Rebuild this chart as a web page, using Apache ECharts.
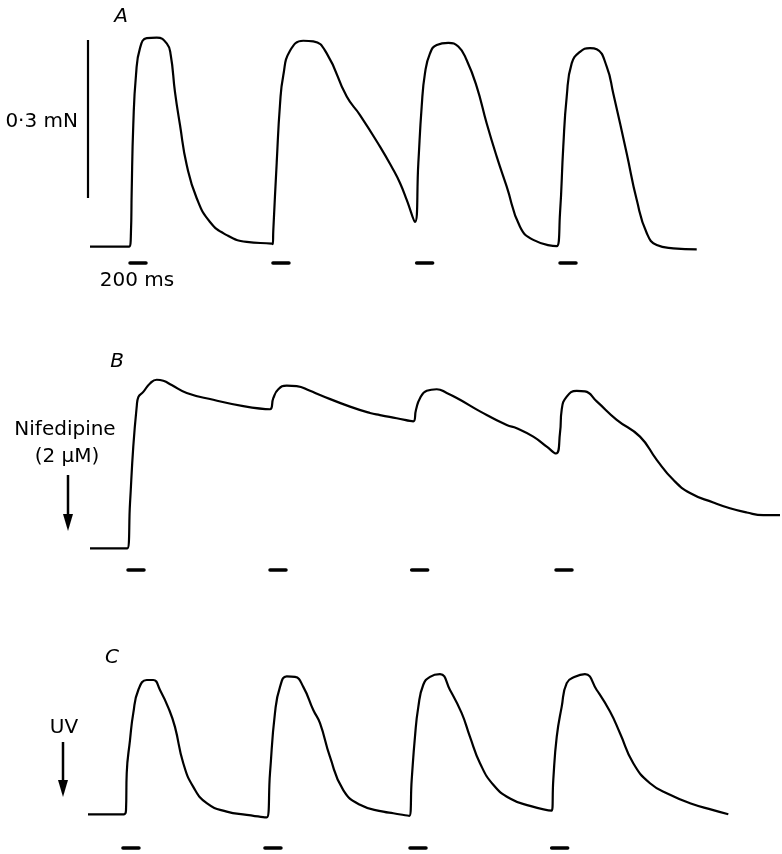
<!DOCTYPE html>
<html>
<head>
    <meta charset="utf-8">
    <title>Twitch force traces</title>
    <script src="https://cdn.jsdelivr.net/npm/echarts@6.0.0/dist/echarts.min.js"></script>
    <style>
        html, body { margin: 0; padding: 0; background: #fff; }
        #chart { width: 782px; height: 854px; }
    </style>
</head>
<body>
<div id="chart"></div>
<script>
// time in ms, force in mN above the resting level of each panel
var timeA = [0, 488, 512, 521, 541, 575, 625, 709, 834, 959, 1009, 1062, 1125, 1209, 1334, 1500, 1709, 1959, 2271, 2284,
    2291, 2334, 2375, 2416, 2500, 2666, 2791, 2959, 3209, 3375, 3625, 3791, 3875, 3959, 4062, 4104, 4146, 4187, 4250, 4334,
    4479, 4604, 4709, 4834, 4959, 5084, 5209, 5375, 5541, 5834, 5875, 5916, 5959, 6021, 6125, 6250, 6334, 6459, 6541, 6709,
    6834, 6959, 7084, 7291, 7584];
var forceA = [0, 0, 0.028, 0.104, 0.231, 0.326, 0.377, 0.396, 0.397, 0.386, 0.364, 0.294, 0.231, 0.155, 0.092, 0.047, 0.022, 0.009, 0.006, 0.005,
    0.030, 0.160, 0.270, 0.325, 0.372, 0.391, 0.390, 0.367, 0.285, 0.250, 0.190, 0.146, 0.121, 0.089, 0.047, 0.158, 0.266, 0.329, 0.367, 0.383,
    0.387, 0.380, 0.354, 0.304, 0.234, 0.171, 0.114, 0.038, 0.013, 0.001, 0.063, 0.190, 0.285, 0.348, 0.370, 0.377, 0.375, 0.342, 0.291, 0.177,
    0.089, 0.026, 0.003, -0.003, -0.005];

var timeB = [0, 466, 500, 541, 584, 604, 666, 750, 834, 916, 1021, 1209, 1541, 1916, 2250, 2291, 2354, 2459, 2584, 2750,
    2875, 3250, 3500, 3625, 3834, 4041, 4075, 4125, 4209, 4334, 4459, 4625, 4875, 5209, 5334, 5541, 5709, 5825, 5875, 5896,
    5959, 6084, 6187, 6334, 6584, 6875, 7084, 7291, 7500, 7791, 7999, 8209, 8416, 8625];
var forceB = [0, 0, 0.085, 0.193, 0.269, 0.287, 0.297, 0.313, 0.320, 0.318, 0.310, 0.295, 0.282, 0.270, 0.264, 0.285, 0.302, 0.309, 0.308, 0.299,
    0.291, 0.269, 0.257, 0.253, 0.247, 0.241, 0.263, 0.285, 0.299, 0.302, 0.295, 0.282, 0.260, 0.234, 0.228, 0.212, 0.193, 0.180, 0.219, 0.263,
    0.288, 0.299, 0.298, 0.279, 0.244, 0.212, 0.168, 0.130, 0.105, 0.087, 0.076, 0.068, 0.063, 0.063];

var timeC = [-25, 425, 450, 459, 500, 541, 604, 709, 791, 875, 991, 1062, 1166, 1291, 1459, 1709, 1959, 2209, 2250, 2312,
    2375, 2459, 2562, 2666, 2791, 2875, 3000, 3166, 3375, 3666, 3791, 3991, 4021, 4062, 4104, 4166, 4250, 4375, 4500, 4646,
    4750, 4875, 5041, 5250, 5500, 5771, 5791, 5834, 5896, 5959, 6062, 6187, 6334, 6500, 6625, 6791, 7000, 7250, 7500, 7791,
    7979];
var forceC = [0, 0, 0.008, 0.078, 0.141, 0.192, 0.236, 0.255, 0.255, 0.236, 0.198, 0.166, 0.097, 0.052, 0.021, 0.005, -0.001, -0.006, 0.078, 0.192,
    0.242, 0.262, 0.261, 0.242, 0.198, 0.173, 0.109, 0.046, 0.018, 0.005, 0.002, -0.003, 0.065, 0.147, 0.204, 0.246, 0.261, 0.266, 0.236, 0.192,
    0.147, 0.097, 0.056, 0.030, 0.016, 0.007, 0.065, 0.147, 0.204, 0.249, 0.261, 0.266, 0.236, 0.195, 0.154, 0.097, 0.059, 0.037, 0.021, 0.008,
    0];

// stimulus onsets (ms), each lasting stimDur
var stimA = [500, 2287, 4083, 5875];
var stimB = [475, 2250, 4021, 5825];
var stimC = [412, 2187, 4000, 5771];
var stimDur = 200;

// calibration bar
var scaleBarMN = 0.3;
var scaleBarStart = 0.0925;
var scaleBarTime = -25;

// layout: same scale in every panel, baseline pixel of each panel
var W = 782, H = 854;
var msPerPx = 12.5;
var mNPerPx = 0.3 / 158;
var xStart = -90 * msPerPx;
var baseY = [246.7, 548.3, 814.3];
var stimLevel = [-0.031, -0.041, -0.064];

var chart = echarts.init(document.getElementById('chart'), null, {renderer: 'canvas'});

var traces = [[timeA, forceA], [timeB, forceB], [timeC, forceC]];
var stims = [stimA, stimB, stimC];

var grids = [], xAxes = [], yAxes = [], series = [];
for (var p = 0; p < 3; p++) {
    grids.push({left: 0, right: 0, top: 0, bottom: 0});
    xAxes.push({type: 'value', gridIndex: p, min: xStart, max: xStart + W * msPerPx, show: false});
    yAxes.push({type: 'value', gridIndex: p, min: -(H - baseY[p]) * mNPerPx, max: baseY[p] * mNPerPx, show: false});

    var pts = traces[p][0].map(function (t, i) { return [t, traces[p][1][i]]; });
    series.push({
        type: 'line', xAxisIndex: p, yAxisIndex: p, data: pts,
        showSymbol: false, smooth: 0.5,
        lineStyle: {color: '#000', width: 2.2}, silent: true
    });
    stims[p].forEach(function (t0) {
        series.push({
            type: 'line', xAxisIndex: p, yAxisIndex: p,
            data: [[t0, stimLevel[p]], [t0 + stimDur, stimLevel[p]]],
            showSymbol: false, lineStyle: {color: '#000', width: 3.5, cap: 'round'}, silent: true
        });
    });
}
// 0.3 mN bar in panel A
series.push({
    type: 'line', xAxisIndex: 0, yAxisIndex: 0,
    data: [[scaleBarTime, scaleBarStart], [scaleBarTime, scaleBarStart + scaleBarMN]],
    showSymbol: false, lineStyle: {color: '#000', width: 2.2}, silent: true
});

var font = '"DejaVu Sans", "Liberation Sans", sans-serif';
function txt(x, y, s, extra) {
    var st = {text: s, fill: '#000', font: '20px ' + font, textAlign: 'center', textVerticalAlign: 'middle'};
    if (extra) for (var k in extra) st[k] = extra[k];
    return {type: 'text', x: x, y: y, style: st, silent: true};
}
function arrow(x, y1, y2) {
    return [
        {type: 'line', shape: {x1: x, y1: y1, x2: x, y2: y2 - 12}, style: {stroke: '#000', lineWidth: 2.5}},
        {type: 'polygon', shape: {points: [[x - 5, y2 - 17], [x + 5, y2 - 17], [x, y2]]}, style: {fill: '#000'}}
    ];
}

var graphic = [
    txt(121, 17, 'A', {font: 'italic 20px ' + font}),
    txt(117, 362, 'B', {font: 'italic 20px ' + font}),
    txt(112, 658, 'C', {font: 'italic 20px ' + font}),
    txt(78, 122, '0·3 mN', {textAlign: 'right'}),
    txt(137, 281, '200 ms'),
    txt(65, 430, 'Nifedipine'),
    txt(67, 457, '(2 \u03BCM)'),
    txt(64, 728, 'UV')
].concat(arrow(68, 475, 531)).concat(arrow(63, 742, 797));

chart.setOption({
    animation: false,
    backgroundColor: '#fff',
    grid: grids,
    xAxis: xAxes,
    yAxis: yAxes,
    series: series,
    graphic: graphic
});
</script>
</body>
</html>
